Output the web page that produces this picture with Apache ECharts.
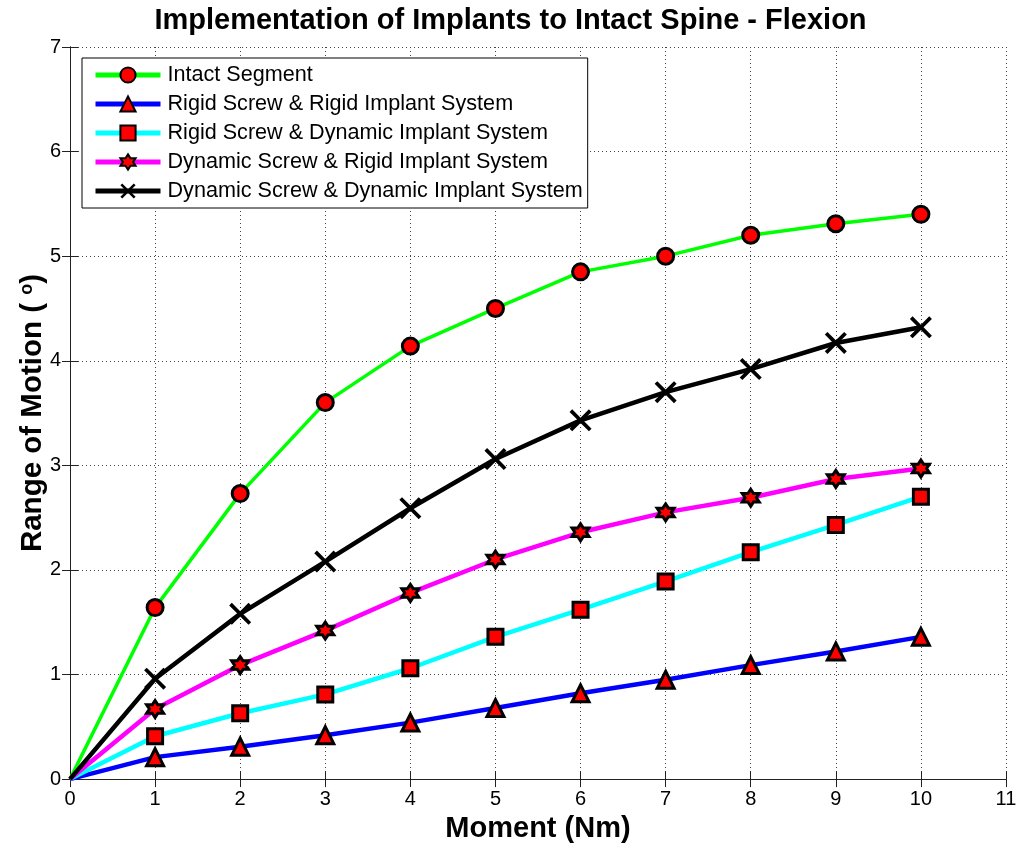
<!DOCTYPE html>
<html>
<head>
<meta charset="utf-8">
<script src="https://cdn.jsdelivr.net/npm/echarts@6/dist/echarts.min.js"></script>
<style>
  html, body { margin: 0; padding: 0; background: #fff; }
  #main { width: 1021px; height: 848px; }
</style>
</head>
<body>
<div id="main"></div>
<script>
var moment = [0, 1, 2, 3, 4, 5, 6, 7, 8, 9, 10];

var intact      = [0, 1.64, 2.73, 3.60, 4.14, 4.50, 4.85, 5.00, 5.20, 5.31, 5.40];
var rigidRigid  = [0, 0.21, 0.31, 0.42, 0.54, 0.68, 0.82, 0.95, 1.09, 1.22, 1.36];
var rigidDyn    = [0, 0.41, 0.63, 0.81, 1.06, 1.36, 1.62, 1.89, 2.17, 2.43, 2.70];
var dynRigid    = [0, 0.67, 1.09, 1.42, 1.78, 2.10, 2.36, 2.55, 2.69, 2.87, 2.97];
var dynDyn      = [0, 0.96, 1.58, 2.08, 2.59, 3.06, 3.43, 3.70, 3.92, 4.17, 4.32];

var seriesNames = [
    'Intact Segment',
    'Rigid Screw & Rigid Implant System',
    'Rigid Screw & Dynamic Implant System',
    'Dynamic Screw & Rigid Implant System',
    'Dynamic Screw & Dynamic Implant System'
];

// 六角星和叉号
var hexagram = 'path://M50,0 L64.4,25 L93.3,25 L78.9,50 L93.3,75 L64.4,75 L50,100 L35.6,75 L6.7,75 L21.1,50 L6.7,25 L35.6,25 Z';
var cross = 'path://M0,12 L12,0 L50,38 L88,0 L100,12 L62,50 L100,88 L88,100 L50,62 L12,100 L0,88 L38,50 Z';

var font = 'Liberation Sans, Arial, sans-serif';

function pairs(ys) {
    var out = [];
    for (var i = 0; i < moment.length; i++) {
        if (i == 0) {
            out.push({ value: [moment[i], ys[i]], symbol: 'none' });
        } else {
            out.push([moment[i], ys[i]]);
        }
    }
    return out;
}

function makeSeries(name, ys, color, width, symbol, size, isCross) {
    return {
        name: name,
        type: 'line',
        data: pairs(ys),
        symbol: symbol,
        symbolSize: size,
        showAllSymbol: true,
        z: 3,
        lineStyle: { color: color, width: width },
        itemStyle: isCross
            ? { color: '#000', borderWidth: 0 }
            : { color: '#ff0000', borderColor: '#000', borderWidth: 3 },
        emphasis: { disabled: true },
        animation: false
    };
}

var gridDots = { color: '#444', type: [1, 3], width: 1 };

var dom = document.getElementById('main');
var myChart = echarts.init(dom);

var option = {
    backgroundColor: '#fff',
    animation: false,
    title: {
        text: 'Implementation of Implants to Intact Spine - Flexion',
        left: 'center',
        top: 1,
        textStyle: { fontFamily: font, fontSize: 29, fontWeight: 'bold', color: '#000' }
    },
    legend: {
        orient: 'vertical',
        left: 82,
        top: 58,
        padding: [6, 5, 6, 11],
        itemGap: 7,
        itemWidth: 65,
        itemHeight: 19,
        backgroundColor: '#fff',
        borderColor: '#000',
        borderWidth: 1,
        borderRadius: 0,
        data: seriesNames,
        lineStyle: { width: 5 },
        textStyle: { fontFamily: font, fontSize: 21.6, color: '#000', padding: [0, 0, 0, 2] }
    },
    grid: { left: 70, right: 15, top: 47, bottom: 67 },
    xAxis: [
        {
            type: 'value',
            min: 0, max: 11, interval: 1,
            name: 'Moment (Nm)',
            nameLocation: 'middle',
            nameGap: 33,
            nameTextStyle: { fontFamily: font, fontSize: 29, fontWeight: 'bold', color: '#000' },
            axisLine: { lineStyle: { color: '#222', width: 1 } },
            axisTick: { inside: true, length: 8, lineStyle: { color: '#222' } },
            axisLabel: { fontFamily: font, fontSize: 20, color: '#000', margin: 10 },
            splitLine: { show: true, lineStyle: gridDots }
        },
        {
            type: 'value', position: 'top',
            min: 0, max: 11, interval: 1,
            axisLine: { lineStyle: { color: '#222' } },
            axisTick: { inside: true, length: 8, lineStyle: { color: '#222' } },
            axisLabel: { show: false },
            splitLine: { show: false }
        }
    ],
    yAxis: [
        {
            type: 'value',
            min: 0, max: 7, interval: 1,
            name: 'Range of Motion ( {sup|o})',
            nameLocation: 'middle',
            nameGap: 22,
            nameMoveOverlap: false,
            nameTextStyle: {
                fontFamily: font, fontSize: 29.5, fontWeight: 'bold', color: '#000',
                rich: { sup: { fontFamily: font, fontSize: 18, fontWeight: 'bold', color: '#000', verticalAlign: 'top', padding: [0, 0, 12, 0] } }
            },
            axisLine: { show: true, lineStyle: { color: '#222', width: 1 } },
            axisTick: { show: true, inside: true, length: 8, lineStyle: { color: '#222' } },
            axisLabel: { fontFamily: font, fontSize: 20, color: '#000', margin: 9 },
            splitLine: { show: true, lineStyle: gridDots }
        },
        {
            type: 'value', position: 'right',
            min: 0, max: 7, interval: 1,
            axisLine: { show: true, lineStyle: { color: '#222' } },
            axisTick: { show: true, inside: true, length: 8, lineStyle: { color: '#222' } },
            axisLabel: { show: false },
            splitLine: { show: false }
        }
    ],
    series: [
        makeSeries(seriesNames[0], intact, '#00ff00', 3.5, 'circle', 16),
        makeSeries(seriesNames[1], rigidRigid, '#0000ff', 4.5, 'triangle', 17),
        makeSeries(seriesNames[2], rigidDyn, '#00ffff', 4.5, 'rect', 15),
        makeSeries(seriesNames[3], dynRigid, '#ff00ff', 4.5, hexagram, 17),
        makeSeries(seriesNames[4], dynDyn, '#000000', 4.5, cross, 22, true)
    ]
};

myChart.setOption(option);
</script>
</body>
</html>
